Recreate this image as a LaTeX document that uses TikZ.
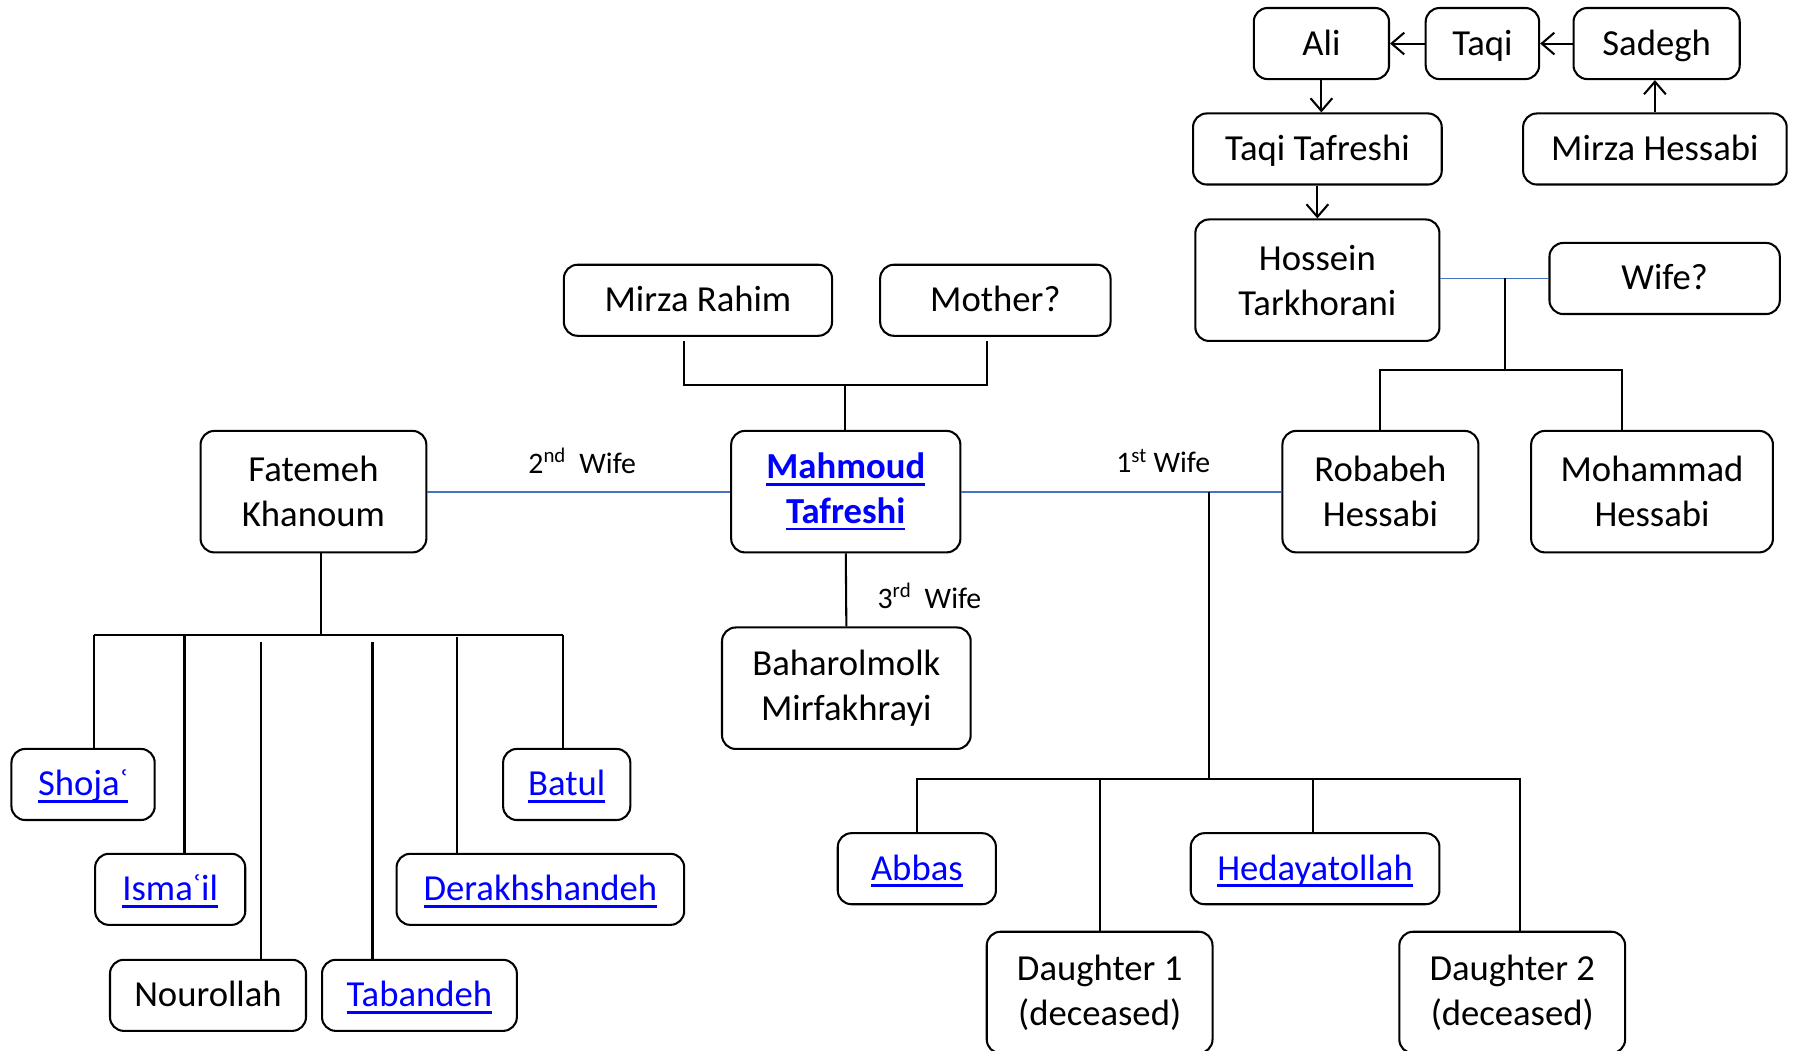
\documentclass[tikz,border=0pt]{standalone}
\usepackage{fontspec}
\setmainfont{Carlito}
\usetikzlibrary{arrows.meta,positioning}

\definecolor{linkblue}{RGB}{0,0,255}
\definecolor{wedblue}{RGB}{68,114,196}
\newcommand{\lnk}[1]{\textcolor{linkblue}{\setbox0\hbox{#1}\rlap{\rule[-6pt]{\wd0}{2.4pt}}\box0}}

\tikzset{
  person/.style={draw, rounded corners=12pt, line width=1.8pt, align=center,
    inner sep=0pt, minimum height=62pt, text height=24pt, text depth=4pt},
  tall/.style={person, minimum height=106pt, text height=, text depth=},
  wed/.style={draw=wedblue, line width=1.6pt},
  kin/.style={draw, line width=1.8pt},
  tag/.style={font=\fontsize{26}{30}\selectfont, inner sep=0pt}
}

\begin{document}
\begin{tikzpicture}[x=1pt,y=-1pt,>={Straight Barb[length=11pt,width=19pt]},
  font=\fontsize{32}{39}\selectfont]
  \useasboundingbox (0,0) rectangle (1568,917);

  % Tafreshi / Hessabi line
  \node[person, minimum width=118pt] (ali)    at (1153,38)   {Ali};
  \node[person, minimum width=99pt]  (taqi)   at (1293.5,38) {Taqi};
  \node[person, minimum width=145pt] (sadegh) at (1445.5,38) {Sadegh};
  \node[person, minimum width=217pt] (ttaf)   at (1149.5,130) {Taqi Tafreshi};
  \node[person, minimum width=230pt] (mhes)   at (1444,130)  {Mirza Hessabi};
  \node[tall,   minimum width=213pt] (hos)    at (1149.5,244.5) {Hossein\\Tarkhorani};
  \node[person, minimum width=201pt] (wife)   at (1452.5,243) {Wife?};

  % parents
  \node[person, minimum width=234pt] (mrah) at (609,262)   {Mirza Rahim};
  \node[person, minimum width=201pt] (moth) at (868.5,262) {Mother?};

  % Mahmoud and wives
  \node[tall, minimum width=197pt] (fat)  at (273.5,429)  {Fatemeh\\Khanoum};
  \node[tall, minimum width=200pt] (mahm) at (738,429)    {\bfseries\lnk{Mahmoud}\\\bfseries\lnk{Tafreshi}};
  \node[tall, minimum width=171pt] (rob)  at (1204.5,429) {Robabeh\\Hessabi};
  \node[tall, minimum width=211pt] (moh)  at (1441.5,429) {Mohammad\\Hessabi};
  \node[tall, minimum width=217pt] (bah)  at (738.5,600.5) {Baharolmolk\\Mirfakhrayi};

  % children of 2nd wife
  \node[person, minimum width=125pt] (shoja) at (72.5,684.5)  {\lnk{Shojaʿ}};
  \node[person, minimum width=111pt] (batul) at (494.5,684.5) {\lnk{Batul}};
  \node[person, minimum width=131pt] (ism)   at (148.5,776)   {\lnk{Ismaʿil}};
  \node[person, minimum width=251pt] (der)   at (471.5,776)   {\lnk{Derakhshandeh}};
  \node[person, minimum width=171pt] (nour)  at (181.5,868.5) {Nourollah};
  \node[person, minimum width=170pt] (tab)   at (366,868.5)   {\lnk{Tabandeh}};

  % children of 1st wife
  \node[person, minimum width=138pt] (abbas) at (800,758)    {\lnk{Abbas}};
  \node[person, minimum width=217pt] (hed)   at (1147.5,758) {\lnk{Hedayatollah}};
  \node[tall,   minimum width=197pt] (dau1)  at (959.5,866)  {Daughter 1\\(deceased)};
  \node[tall,   minimum width=197pt] (dau2)  at (1319.5,866) {Daughter 2\\(deceased)};

  % wife labels
  \node[tag] (w2) at (508,402) {2\textsuperscript{nd}\ \ Wife};
  \node[tag] (w1) at (1015,402) {1\textsuperscript{st} Wife};
  \node[tag] (w3) at (811,520) {3\textsuperscript{rd}\ \ Wife};

  % ancestry arrows
  \draw[kin,->] (taqi) -- (ali);
  \draw[kin,->] (sadegh) -- (taqi);
  \draw[kin,->] (mhes.north) -- (mhes.north |- sadegh.south);
  \draw[kin,->] (ali.south) -- (ali.south |- ttaf.north);
  \draw[kin,->] (ttaf.south) -- (ttaf.south |- hos.north);

  % Hossein + wife
  \coordinate (hwmid) at (1313,243);
  \coordinate (hwbar) at (1313,323);
  \draw[wed] (hos.east |- wife.west) -- (wife.west);
  \draw[kin] (hwmid) -- (hwbar);
  \draw[kin] (rob.north) |- (hwbar) -| ([xshift=-26pt]moh.north);

  % Mirza Rahim + mother
  \coordinate (parbar) at (737,336);
  \draw[kin] ([xshift=-12pt,yshift=-4pt]mrah.south) |- (parbar)
    -| ([xshift=-7.5pt,yshift=-4pt]moth.south);
  \draw[kin] (parbar) -- (parbar |- mahm.north);

  % marriages
  \draw[wed] (fat.east) -- (mahm.west);
  \draw[wed] (mahm.east) -- (rob.west);
  \draw[kin] (mahm.south) -- (bah.north);

  % 1st wife's children
  \coordinate (w1top) at (1055,429);
  \coordinate (w1bar) at (1055,680);
  \draw[kin] (w1top) -- (w1bar);
  \draw[kin] (abbas.north) |- (w1bar) -| ([xshift=6.5pt]dau2.north);
  \draw[kin] (dau1.north) -- (dau1.north |- w1bar);
  \draw[kin] ([xshift=-1.5pt]hed.north) -- ([xshift=-1.5pt]hed.north |- w1bar);

  % 2nd wife's children
  \coordinate (fkbar) at (280,554);
  \coordinate (fkleft) at (82,554);
  \coordinate (fkright) at (491,554);
  \draw[kin] (fat.south -| fkbar) -- (fkbar);
  \draw[kin] (fkleft) -- (fkright);
  \foreach \kid/\x/\y in {shoja/82/554, ism/161/554, nour/228/560,
                          tab/325/560, der/399/556, batul/491/554}
    \draw[kin] (\x,\y) -- (\x,0 |- \kid.north);
\end{tikzpicture}
\end{document}
